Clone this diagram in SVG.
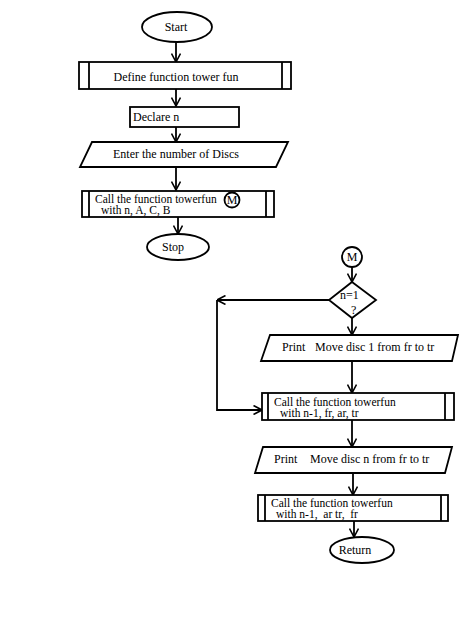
<svg xmlns="http://www.w3.org/2000/svg" width="474" height="625" viewBox="0 0 474 625">
<defs>
<marker id="arr" viewBox="0 0 10 10" refX="9.5" refY="5" markerWidth="10" markerHeight="10" markerUnits="userSpaceOnUse" orient="auto">
<polyline points="1,0.5 9.5,5 1,9.5" fill="none" stroke="#000" stroke-width="1.6"/>
</marker>
</defs>
<style>
.s{fill:#fff;stroke:#000;stroke-width:1.8}
.l{fill:none;stroke:#000;stroke-width:1.8}
.c{fill:none;stroke:#000;stroke-width:1.8;marker-end:url(#arr)}
text{font-family:"Liberation Serif","Times New Roman",serif;font-size:12px;fill:#000}
.t{font-size:11.5px}
.m{text-anchor:middle}
</style>
<rect width="474" height="625" fill="#fff"/>
<g id="connectors">
<line class="c" x1="176" y1="42" x2="176" y2="62"/>
<line class="c" x1="176" y1="89" x2="176" y2="106"/>
<line class="c" x1="176" y1="127" x2="176" y2="142"/>
<line class="c" x1="176" y1="167" x2="176" y2="190"/>
<line class="c" x1="178" y1="217" x2="178" y2="234"/>
<line class="c" x1="352" y1="267" x2="352" y2="282"/>
<line class="c" x1="352" y1="318" x2="352" y2="335"/>
<line class="c" x1="352" y1="361" x2="352" y2="393"/>
<line class="c" x1="352" y1="420" x2="352" y2="447"/>
<line class="c" x1="353" y1="473" x2="353" y2="495"/>
<line class="c" x1="354" y1="521" x2="354" y2="537"/>
<line class="c" x1="329" y1="300" x2="217" y2="300"/>
<polyline class="c" points="217,300 217,410 262,410"/>
</g>
<g id="start">
<ellipse class="s" cx="177" cy="27" rx="35" ry="15"/>
<text class="m" x="176" y="31">Start</text>
</g>
<g id="define">
<rect class="s" x="79" y="62" width="212" height="27"/>
<line class="l" x1="89" y1="62" x2="89" y2="89"/>
<line class="l" x1="282" y1="62" x2="282" y2="89"/>
<text class="m" x="176" y="81">Define function tower fun</text>
</g>
<g id="declare">
<rect class="s" x="130" y="107" width="109" height="20"/>
<text x="133" y="121">Declare n</text>
</g>
<g id="enter">
<polygon class="s" points="92,142 288,142 276,167 80,167"/>
<text class="m" x="176" y="158">Enter the number of Discs</text>
</g>
<g id="call1">
<rect class="s" x="82" y="191" width="192" height="26"/>
<line class="l" x1="89" y1="191" x2="89" y2="217"/>
<line class="l" x1="266" y1="191" x2="266" y2="217"/>
<text class="t" x="95" y="203">Call the function towerfun</text>
<text class="t" x="101" y="214">with n, A, C, B</text>
<circle class="s" cx="232" cy="200" r="7.5" fill="none"/>
<text class="m" x="232" y="204">M</text>
</g>
<g id="stop">
<ellipse class="s" cx="178" cy="247" rx="31" ry="13"/>
<text class="m" x="173" y="251">Stop</text>
</g>
<g id="m2">
<circle class="s" cx="352" cy="257" r="10"/>
<text class="m" x="352" y="261">M</text>
</g>
<g id="decision">
<polygon class="s" points="352,282 376,300 352,318 329,300"/>
<text x="340" y="299">n=1</text>
<text x="351" y="314">?</text>
</g>
<g id="print1">
<polygon class="s" points="270,335 458,335 452,361 261,361"/>
<text x="282" y="351">Print</text>
<text x="315" y="351">Move disc 1 from fr to tr</text>
</g>
<g id="call2">
<rect class="s" x="262" y="393" width="192" height="27"/>
<line class="l" x1="268" y1="393" x2="268" y2="420"/>
<line class="l" x1="445" y1="393" x2="445" y2="420"/>
<text class="t" x="274" y="406">Call the function towerfun</text>
<text class="t" x="280" y="417">with n-1, fr, ar, tr</text>
</g>
<g id="print2">
<polygon class="s" points="263,447 452,447 445,473 255,473"/>
<text x="274" y="463">Print</text>
<text x="310" y="463">Move disc n from fr to tr</text>
</g>
<g id="call3">
<rect class="s" x="258" y="495" width="190" height="26"/>
<line class="l" x1="265" y1="495" x2="265" y2="521"/>
<line class="l" x1="441" y1="495" x2="441" y2="521"/>
<text class="t" x="271" y="507">Call the function towerfun</text>
<text class="t" x="276" y="518" xml:space="preserve">with n-1,  ar tr,  fr</text>
</g>
<g id="return">
<ellipse class="s" cx="362" cy="550" rx="32" ry="13"/>
<text class="m" x="355" y="554">Return</text>
</g>
</svg>
